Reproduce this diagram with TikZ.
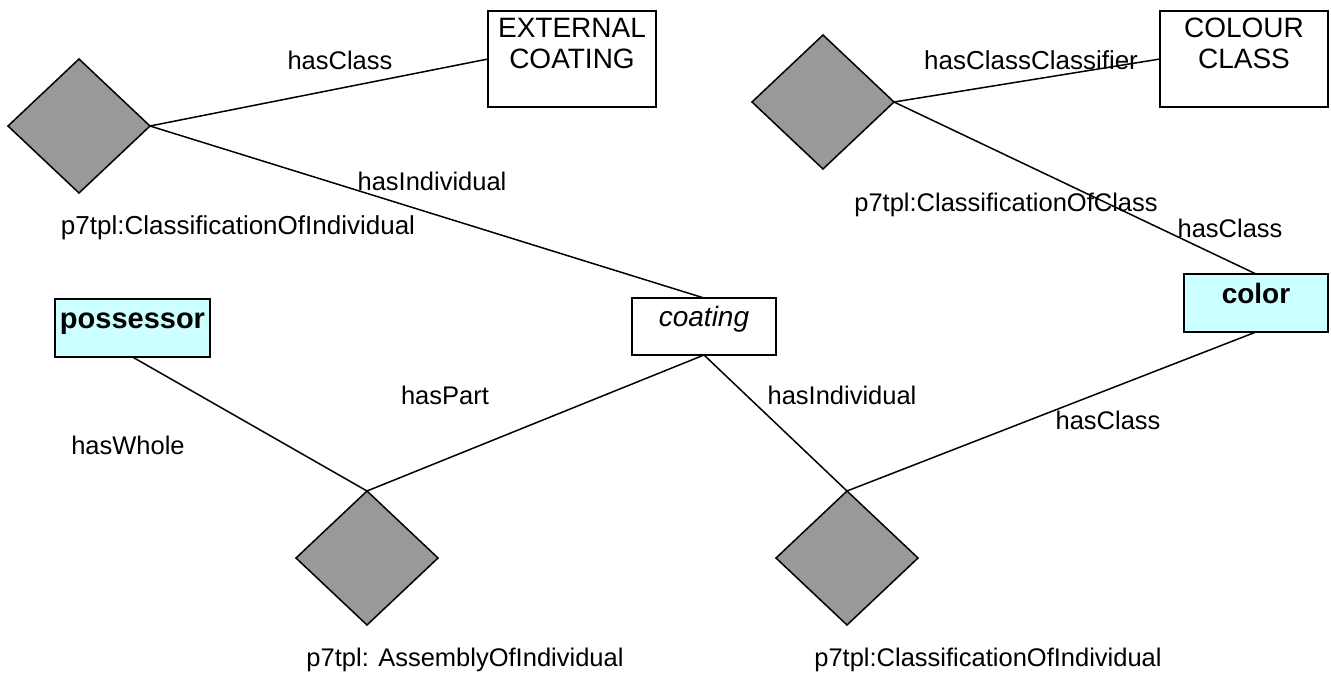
\documentclass[tikz,border=0pt]{standalone}
\usepackage{fontspec}
\setmainfont{Liberation Sans}
\usetikzlibrary{shapes.geometric}
\definecolor{dgray}{HTML}{999999}
\definecolor{lcyan}{HTML}{CCFFFF}
\begin{document}
\begin{tikzpicture}[x=1pt,y=-1pt,
  dia/.style={diamond,draw=black,fill=dgray,line width=1.5pt,minimum width=142pt,minimum height=134pt,inner sep=0pt,outer sep=0pt},
  conn/.style={line width=1.5pt,line cap=round},
  lbl/.style={font=\fontsize{25.5}{30}\selectfont,inner sep=0pt},
  box/.style={draw=black,line width=1.5pt,inner sep=0pt,outer sep=0pt},
  bigbox/.style={box,minimum width=168pt,minimum height=96pt},
  smallbox/.style={box,text height=11pt,text depth=11pt}
]
\useasboundingbox (0,0) rectangle (1331,675);

% boxes
\node[bigbox] (ext) at (572,59) {\parbox[c][96pt][t]{168pt}{\centering\fontsize{28}{31}\selectfont\vspace*{7pt}EXTERNAL\\COATING}};
\node[bigbox] (cc) at (1244,59) {\parbox[c][96pt][t]{168pt}{\centering\fontsize{28}{31}\selectfont\vspace*{7pt}COLOUR\\CLASS}};
\node[smallbox,fill=lcyan,minimum width=155pt,minimum height=58pt,font=\fontsize{29}{34}\selectfont\bfseries] (poss) at (132.5,328) {possessor};
\node[smallbox,fill=white,minimum width=144pt,minimum height=57pt,font=\fontsize{28}{34}\selectfont\itshape] (coat) at (704,326.5) {coating};
\node[smallbox,fill=lcyan,minimum width=144pt,minimum height=58pt,font=\fontsize{28}{34}\selectfont\bfseries] (col) at (1256,303) {color};

% diamonds
\node[dia] (d1) at (79,126) {};
\node[dia] (d2) at (823,102) {};
\node[dia] (d3) at (367,558) {};
\node[dia] (d4) at (847,558) {};

% diamond labels
\node[lbl,font=\fontsize{26}{30}\selectfont] (t1) at (238,228) {p7tpl:ClassificationOfIndividual};
\node[lbl] (t2) at (1006,205) {p7tpl:ClassificationOfClass};
\node[lbl] (t3) at (465,660) {p7tpl: AssemblyOfIndividual};
\node[lbl] (t4) at (988,660) {p7tpl:ClassificationOfIndividual};

% connectors
\draw[conn] (d1.east) -- (ext.west);
\draw[conn] (d1.east) -- (coat.north);
\draw[conn] (d2.east) -- (cc.west);
\draw[conn] (d2.east) -- (col.north);
\draw[conn] (poss.south) -- (d3.north);
\draw[conn] (coat.south) -- (d3.north);
\draw[conn] (coat.south) -- (d4.north);
\draw[conn] (col.south) -- (d4.north);

% connector labels
\node[lbl] (l1) at (340,60) {hasClass};
\node[lbl] (l2) at (432,181) {hasIndividual};
\node[lbl,font=\fontsize{26}{30}\selectfont] (l3) at (1031,60) {hasClassClassifier};
\node[lbl] (l4) at (1230,228) {hasClass};
\node[lbl] (l5) at (128,445) {hasWhole};
\node[lbl] (l6) at (445,395) {hasPart};
\node[lbl] (l7) at (842,395) {hasIndividual};
\node[lbl] (l8) at (1108,420) {hasClass};
\end{tikzpicture}
\end{document}
